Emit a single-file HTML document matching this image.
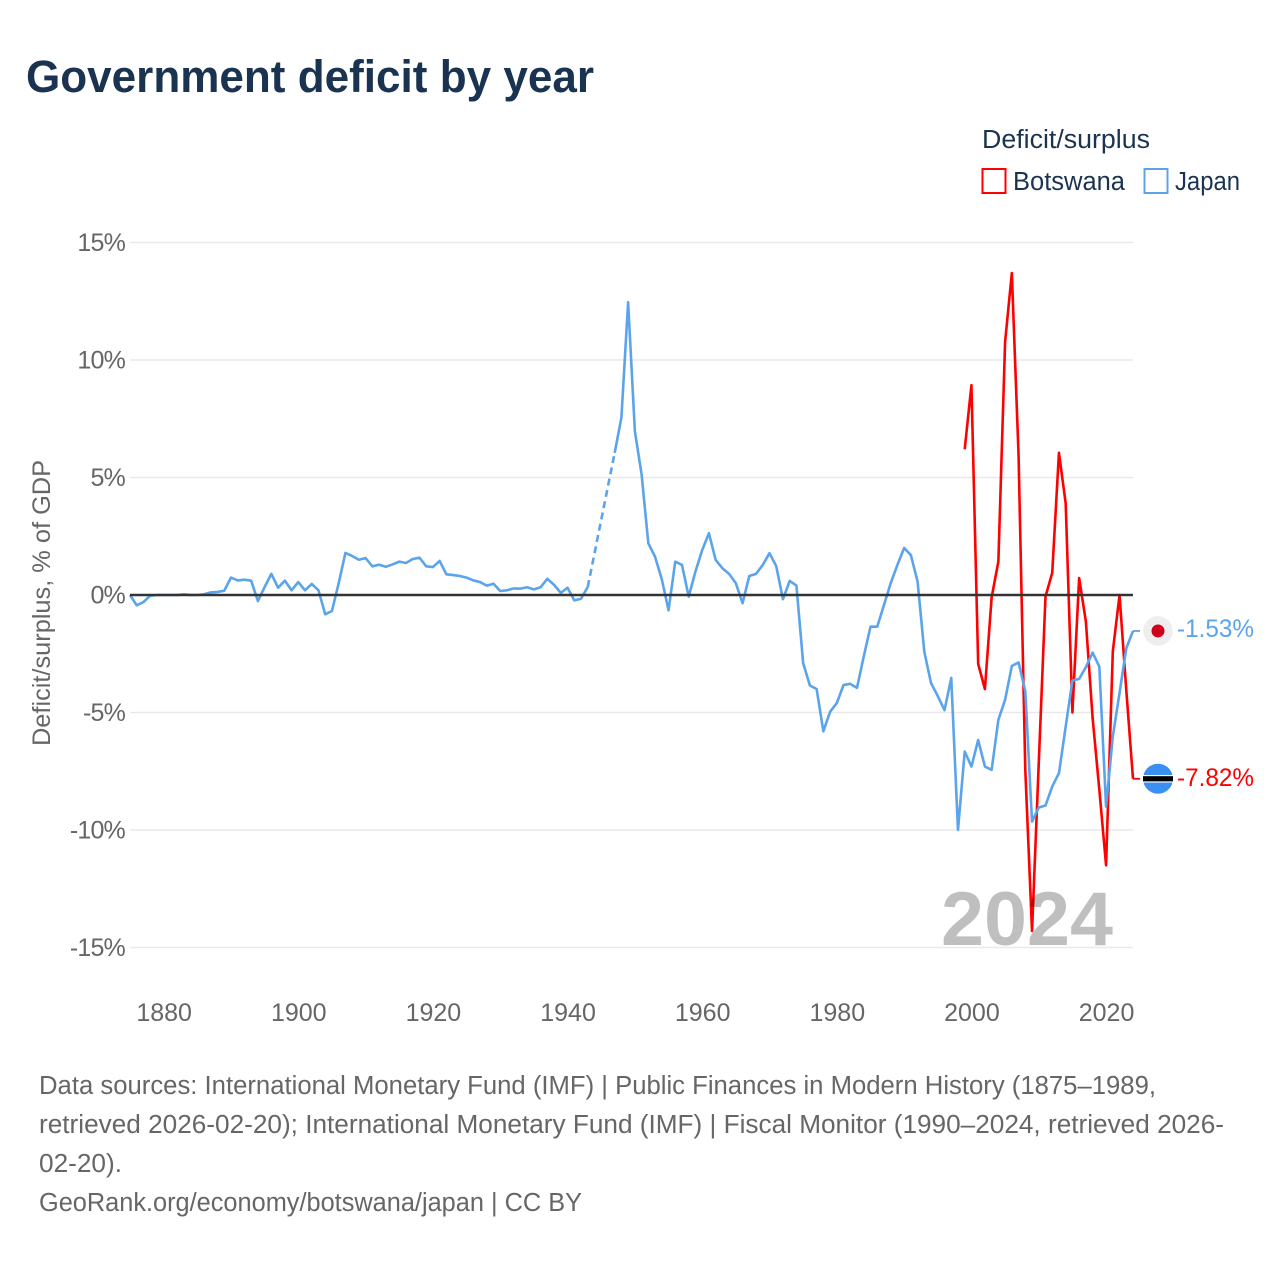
<!DOCTYPE html>
<html lang="en">
<head>
<meta charset="utf-8">
<title>Government deficit by year</title>
<style>
  html, body { margin: 0; padding: 0; background: #fff; }
  svg { display: block; font-family: "Liberation Sans", sans-serif; }
</style>
</head>
<body>
<svg id="chart" width="1280" height="1280" viewBox="0 0 1280 1280" xmlns="http://www.w3.org/2000/svg">
  <text x="26" y="92" font-size="45" font-weight="700" fill="#1a3350" textLength="568" lengthAdjust="spacingAndGlyphs">Government deficit by year</text>

  <g>
    <text x="982" y="148" font-size="25.5" fill="#1a3350" textLength="168" lengthAdjust="spacingAndGlyphs">Deficit/surplus</text>
    <g>
      <rect x="982.5" y="169" width="23" height="24" fill="#fff" stroke="#ff0000" stroke-width="2"/>
      <text x="1013" y="190" font-size="25.5" fill="#1a3350" textLength="112" lengthAdjust="spacingAndGlyphs">Botswana</text>
    </g>
    <g>
      <rect x="1144.5" y="169" width="23" height="24" fill="#fff" stroke="#5ba4ec" stroke-width="2"/>
      <text x="1175" y="190" font-size="25.5" fill="#1a3350" textLength="65" lengthAdjust="spacingAndGlyphs">Japan</text>
    </g>
  </g>

  <g id="grid"></g>
  <g id="yticks"></g>
  <g id="xticks"></g>
  <text transform="translate(50,603) rotate(-90)" text-anchor="middle" font-size="25" fill="#666666" textLength="286" lengthAdjust="spacingAndGlyphs">Deficit/surplus, % of GDP</text>

  <g id="series"></g>
  <g id="zero"></g>

  <text x="941" y="945" font-size="76" font-weight="700" fill="#000" fill-opacity="0.25" textLength="172" lengthAdjust="spacingAndGlyphs">2024</text>

  <g id="endpoints"></g>

  <g font-size="25.5" fill="#666666">
    <text x="39" y="1094" textLength="1117" lengthAdjust="spacingAndGlyphs">Data sources: International Monetary Fund (IMF) | Public Finances in Modern History (1875–1989,</text>
    <text x="39" y="1133" textLength="1185" lengthAdjust="spacingAndGlyphs">retrieved 2026-02-20); International Monetary Fund (IMF) | Fiscal Monitor (1990–2024, retrieved 2026-</text>
    <text x="39" y="1172" textLength="83" lengthAdjust="spacingAndGlyphs">02-20).</text>
    <text x="39" y="1211" textLength="543" lengthAdjust="spacingAndGlyphs">GeoRank.org/economy/botswana/japan | CC BY</text>
  </g>
</svg>

<script>
const yTickValues = [15, 10, 5, 0, -5, -10, -15];
const yTickLabels = ["15%", "10%", "5%", "0%", "-5%", "-10%", "-15%"];
const xTickYears = [1880, 1900, 1920, 1940, 1960, 1980, 2000, 2020];
const xTickLabels = ["1880", "1900", "1920", "1940", "1960", "1980", "2000", "2020"];

const japanYears = [
  1875,1876,1877,1878,1879,
  1880,1881,1882,1883,1884,1885,1886,1887,1888,1889,
  1890,1891,1892,1893,1894,1895,1896,1897,1898,1899,
  1900,1901,1902,1903,1904,1905,1906,1907,1908,1909,
  1910,1911,1912,1913,1914,1915,1916,1917,1918,1919,
  1920,1921,1922,1923,1924,1925,1926,1927,1928,1929,
  1930,1931,1932,1933,1934,1935,1936,1937,1938,1939,
  1940,1941,1942,1943,1944,1945,1946,1947,1948,1949,
  1950,1951,1952,1953,1954,1955,1956,1957,1958,1959,
  1960,1961,1962,1963,1964,1965,1966,1967,1968,1969,
  1970,1971,1972,1973,1974,1975,1976,1977,1978,1979,
  1980,1981,1982,1983,1984,1985,1986,1987,1988,1989,
  1990,1991,1992,1993,1994,1995,1996,1997,1998,1999,
  2000,2001,2002,2003,2004,2005,2006,2007,2008,2009,
  2010,2011,2012,2013,2014,2015,2016,2017,2018,2019,
  2020,2021,2022,2023,2024
];
const japanValues = [
  0,-0.44,-0.3,-0.03,0,
  0,0,0,0.03,0,0,0.03,0.11,0.13,0.18,
  0.74,0.62,0.65,0.61,-0.26,0.34,0.9,0.31,0.61,0.2,
  0.55,0.2,0.47,0.2,-0.82,-0.68,0.5,1.79,1.66,1.5,
  1.57,1.22,1.29,1.2,1.3,1.42,1.36,1.53,1.59,1.22,
  1.19,1.45,0.88,0.85,0.81,0.74,0.62,0.55,0.4,0.48,
  0.17,0.2,0.28,0.27,0.33,0.24,0.33,0.69,0.43,0.09,
  0.31,-0.23,-0.16,0.34,null,null,null,6.05,7.55,12.46,
  6.97,5.13,2.2,1.63,0.67,-0.65,1.42,1.28,-0.07,1.0,
  1.91,2.63,1.49,1.14,0.9,0.5,-0.35,0.81,0.9,1.28,
  1.78,1.23,-0.18,0.6,0.4,-2.9,-3.85,-4.0,-5.8,-4.97,
  -4.6,-3.83,-3.78,-3.95,-2.62,-1.35,-1.35,-0.43,0.5,1.28,
  2.0,1.7,0.57,-2.42,-3.75,-4.3,-4.9,-3.53,-10.0,-6.66,
  -7.3,-6.17,-7.3,-7.44,-5.31,-4.46,-3.02,-2.87,-4.1,-9.64,
  -9.04,-8.96,-8.15,-7.58,-5.6,-3.64,-3.57,-3.07,-2.45,-3.05,
  -9.0,-6.02,-4.17,-2.27,-1.53
];

const botswanaYears = [
  1999,2000,2001,2002,2003,2004,2005,2006,2007,2008,
  2009,2010,2011,2012,2013,2014,2015,2016,2017,2018,
  2019,2020,2021,2022,2023,2024
];
const botswanaValues = [
  6.2,8.93,-2.93,-4.0,-0.1,1.42,10.77,13.7,5.95,-7.44,
  -14.3,-7.15,-0.07,0.94,6.05,3.9,-5.0,0.72,-1.13,-5.23,
  -8.29,-11.5,-2.4,0.0,-4.04,-7.82
];

const NS = "http://www.w3.org/2000/svg";
const plotLeft = 130, plotRight = 1133, yearMin = 1875, yearMax = 2024;
const zeroY = 595, pxPerUnit = 23.5;
const RED = "#ff0000", BLUE = "#5ba4ec";

function xScale(year) { return plotLeft + (year - yearMin) * (plotRight - plotLeft) / (yearMax - yearMin); }
function yScale(v) { return zeroY - v * pxPerUnit; }
function make(tag, attrs, parent) {
  const el = document.createElementNS(NS, tag);
  for (const k in attrs) el.setAttribute(k, attrs[k]);
  parent.appendChild(el);
  return el;
}
function flagX() { return plotRight + 25; }

const gridG = document.getElementById("grid");
const yTicksG = document.getElementById("yticks");
yTickValues.forEach(function (v, i) {
  const y = yScale(v);
  const line = make("line", { x1: plotLeft, x2: plotRight, y1: y, y2: y, stroke: "#e9e9e9", "stroke-width": 1.5 }, gridG);
  
  
  const t = make("text", { x: 125, y: y + 8.5, "text-anchor": "end", "font-size": 25, "letter-spacing": "-0.8", fill: "#666666" }, yTicksG);
  
  
  t.textContent = yTickLabels[i];
});

const xTicksG = document.getElementById("xticks");
xTickYears.forEach(function (yr, i) {
  const t = make("text", { x: xScale(yr) + 0.5, y: 1021, "text-anchor": "middle", "font-size": 25, fill: "#666666" }, xTicksG);
  
  
  t.textContent = xTickLabels[i];
});

function drawSeries(name, years, values, color) {
  const g = document.getElementById("series");
  let seg = [];
  let lastPt = null;
  function flush() {
    if (seg.length > 1) {
      const p = make("polyline", { points: seg.map(function (q) { return q.join(","); }).join(" "), fill: "none", stroke: color, "stroke-width": 2.6, "stroke-linejoin": "round" }, g);
      
      
    }
    seg = [];
  }
  let gapStart = null;
  years.forEach(function (yr, i) {
    const v = values[i];
    if (v === null) {
      if (seg.length) { gapStart = lastPt; flush(); }
      return;
    }
    const pt = [xScale(yr), yScale(v)];
    if (gapStart) {
      const d = make("line", { x1: gapStart[0], y1: gapStart[1], x2: pt[0], y2: pt[1], stroke: color, "stroke-width": 2.6, "stroke-dasharray": "7 4.5" }, g);
      
      
      gapStart = null;
    }
    seg.push(pt);
    lastPt = pt;
  });
  flush();
  const tail = make("line", { x1: lastPt[0], y1: lastPt[1], x2: plotRight + 7, y2: lastPt[1], stroke: color, "stroke-width": 1.8 }, g);
  
  
  return lastPt[1];
}

const botswanaEndY = drawSeries("botswana", botswanaYears, botswanaValues, RED);
const japanEndY = drawSeries("japan", japanYears, japanValues, BLUE);

const zeroLine = make("line", { x1: plotLeft, x2: plotRight, y1: zeroY, y2: zeroY, stroke: "#333333", "stroke-width": 2.4 }, document.getElementById("zero"));



const endG = document.getElementById("endpoints");

const japanFlag = make("g", {}, endG);


make("circle", { cx: flagX(), cy: japanEndY, r: 14.8, fill: "#eeeeee" }, japanFlag);
make("circle", { cx: flagX(), cy: japanEndY, r: 6.5, fill: "#d0021b" }, japanFlag);

const botswanaFlag = make("g", {}, endG);


make("circle", { cx: flagX(), cy: botswanaEndY, r: 15, fill: "#3a8ff0" }, botswanaFlag);
make("rect", { x: flagX() - 15, y: botswanaEndY - 3.8, width: 30, height: 7.6, fill: "#ffffff" }, botswanaFlag);
make("rect", { x: flagX() - 15, y: botswanaEndY - 2.6, width: 30, height: 5.2, fill: "#000000" }, botswanaFlag);

const japanLabel = make("text", { x: 1177, y: japanEndY + 6, "font-size": 25, fill: BLUE, textLength: 77, lengthAdjust: "spacingAndGlyphs" }, endG);


japanLabel.textContent = japanValues[japanValues.length - 1].toFixed(2) + "%";

const botswanaLabel = make("text", { x: 1177, y: botswanaEndY + 7, "font-size": 25, fill: RED, textLength: 77, lengthAdjust: "spacingAndGlyphs" }, endG);


botswanaLabel.textContent = botswanaValues[botswanaValues.length - 1].toFixed(2) + "%";
</script>
</body>
</html>
